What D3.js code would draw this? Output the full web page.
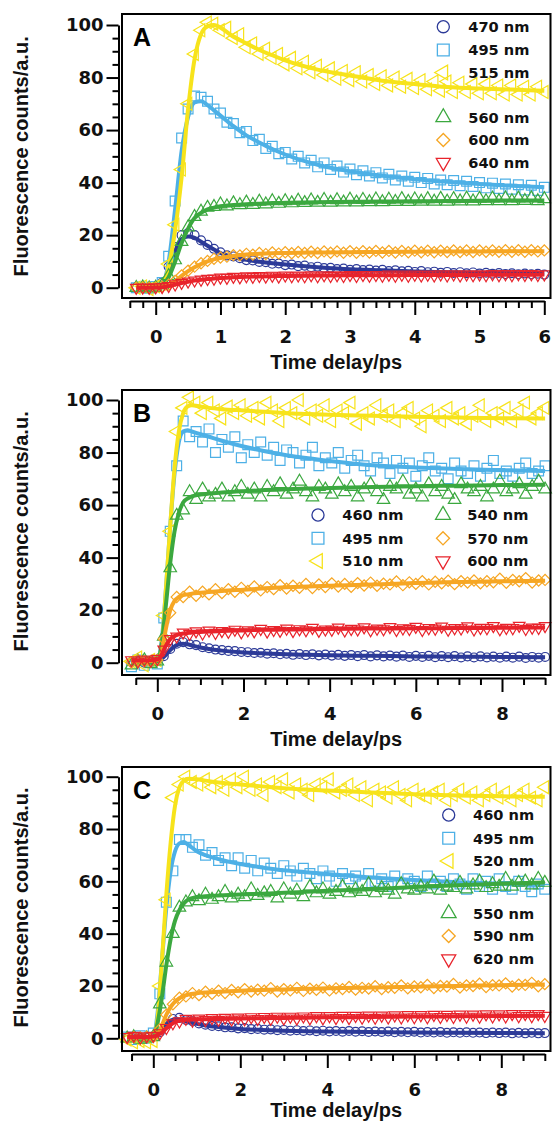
<!DOCTYPE html>
<html><head><meta charset="utf-8">
<script src="https://cdn.jsdelivr.net/npm/d3@7"></script>
<style>html,body{margin:0;padding:0;background:#fff}</style>
</head><body>
<svg id="chart" width="553" height="1122"></svg>
<script>
// ---------------- DATA ----------------
// Panel A: measured time points (ps)
const tA = [-0.3,-0.2,-0.1,0,0.1,0.2,0.3,0.4,0.5,0.6,0.7,0.8,0.9,1,1.1,1.2,1.3,1.4,1.5,1.6,1.7,1.8,1.9,2,2.1,2.2,2.3,2.4,2.5,2.6,2.7,2.8,2.9,3,3.1,3.2,3.3,3.4,3.5,3.6,3.7,3.8,3.9,4,4.1,4.2,4.3,4.4,4.5,4.6,4.7,4.8,4.9,5,5.1,5.2,5.3,5.4,5.5,5.6,5.7,5.8,5.9,6];
const mA470 = [0.2,-0.1,0.1,0.3, 2,8,15.5,20,20.8,20,18,16.3,14.8,13.5, 12.3,11.9,11.2,10.5,10.4,9.8,9.7,9.1,9.2,8.6, 8.8,8.2,8.4,7.8,8.0,7.5,7.6,7.1,7.3,6.8, 7.1,6.7,6.9,6.5,6.8,6.3,6.6,6.2,6.4,6.0, 6.3,5.9,6.1,5.7,6.0,5.6,5.9,5.5,5.8,5.4, 5.7,5.3,5.6,5.2,5.5,5.1,5.4,5.1,5.3,5.0];
const mA495 = [0,0.3,-0.2,0.5, 2,12,33,57,68,73,72.5,71,68,66.5, 63,62.5,59,59.5,56,56.5,53,53.8,51,51.5, 49,50,47.5,48.5,46,47.5,45,46.3,44,45.2, 43,44.5,42.5,43.8,41.8,43.2,41,42.5,40.5,42, 40,41.6,39.5,41,39.2,40.8,38.8,40.5,38.5,40, 38,39.8,37.8,39.5,37.5,39.2,37.2,39,37,38.2];
const mA515 = [0,0.5,-0.5,0.5, 1.5,9,24,45,70,89,98,101,100.5,98, 99,95,96.5,91.5,93,89,91,87.5,89,85, 87.5,83.5,86,82,84.5,81,83.5,79.5,82.5,79, 82,78.5,81,77.5,80.5,77,80,76.5,79.5,76, 79,75.5,78.5,75,78.5,74.5,78,74.5,77.5,74, 77.5,74,77,73.5,77,73.5,76.5,73.5,76.5,74.5];
const mA560 = [0,0.2,-0.2,0.1, 1,4.5,10.5,17.5,23,27,29,30.5,30.8,31.8, 31,32.2,31.5,32.5,31.6,32.8,31.8,33,32,33, 32.2,33.2,32.3,33.3,32.4,33.5,32.4,33.4,32.5,33.6, 32.5,33.5,32.6,33.7,32.6,33.6,32.7,33.8,32.7,33.7, 32.8,33.8,32.8,33.9,32.8,33.8,32.9,34,32.9,33.9, 33,34,33,34.1,33,34,33.1,34.1,33,33.8];
const mA600 = [0,0.1,0,0.1, 0.4,1.2,2.6,4.7,6.5,8,9.3,10.2,11,11.5, 11.8,12.4,12.3,12.9,12.6,13.2,12.8,13.4,13,13.5, 13.1,13.6,13.2,13.7,13.2,13.8,13.3,13.8,13.3,13.9, 13.3,13.9,13.4,14,13.4,14,13.4,14,13.5,14.1, 13.5,14.1,13.5,14.1,13.6,14.2,13.6,14.2,13.6,14.2, 13.7,14.2,13.7,14.3,13.7,14.3,13.7,14.3,13.8,14.2];
const mA640 = [0,0.1,0,0.2, 0.3,0.7,1.3,1.9,2.4,2.8,3.1,3.4,3.5,3.9, 3.8,4.2,4,4.4,4.2,4.5,4.3,4.6,4.3,4.7, 4.4,4.7,4.4,4.8,4.4,4.8,4.5,4.8,4.5,4.9, 4.5,4.9,4.6,4.9,4.6,5,4.6,5,4.6,5, 4.7,5,4.7,5.1,4.7,5.1,4.7,5.1,4.8,5.1, 4.8,5.2,4.8,5.2,4.8,5.2,4.9,5.2,4.9,5.1];
// Panel A: fitted curves
const fitTA = [-0.3,0,0.1,0.2,0.3,0.4,0.5,0.6,0.7,0.8,0.9,1.0,1.2,1.4,1.6,1.8,2.0,2.5,3.0,3.5,4.0,4.5,5.0,5.5,6.0];
const fA470 = [0,0.3,1.5,7,14,18.5,19.5,19,17.5,16,14.5,13.2,11.6,10.6,9.9,9.3,8.8,7.8,7.0,6.6,6.2,5.9,5.7,5.5,5.3];
const fA495 = [0,0.5,1,10,30,52,65,70.5,71,69.5,67.5,65.5,61.5,58,55.3,52.8,50.7,46.8,44.3,42.6,41.3,40.3,39.5,38.8,38.2];
const fA515 = [0,0.5,1,8,22,42,68,87,96.5,99.5,100,99,95.5,93,90.5,88.5,86.5,83,80.8,78.8,77.5,76.4,75.8,75.4,75];
const fA560 = [0,0.1,1,4,10,17,22.5,26.5,28.5,29.8,30.5,31,31.5,31.8,32,32.2,32.3,32.5,32.7,32.8,32.9,33,33.1,33.2,33.2];
const fA600 = [0,0.1,0.3,1,2.5,4.5,6.3,7.8,9,10,10.8,11.3,12.1,12.6,12.9,13.1,13.2,13.4,13.5,13.6,13.7,13.8,13.8,13.9,13.9];
const fA640 = [0,0.1,0.2,0.6,1.2,1.8,2.3,2.7,3.0,3.3,3.5,3.7,4.0,4.2,4.3,4.4,4.5,4.6,4.7,4.7,4.8,4.8,4.9,4.9,5.0];

// Panels B and C: measured time points (ps)
const tBC = [-0.6,-0.45,-0.3,-0.15,0, 0.15,0.3,0.45,0.6,0.75,0.9,1.05,1.2,1.35,1.5, 1.65,1.8,1.95,2.1,2.25,2.4,2.55,2.7,2.85,3, 3.15,3.3,3.45,3.6,3.75,3.9,4.05,4.2,4.35,4.5, 4.65,4.8,4.95,5.1,5.25,5.4,5.55,5.7,5.85,6, 6.15,6.3,6.45,6.6,6.75,6.9,7.05,7.2,7.35,7.5, 7.65,7.8,7.95,8.1,8.25,8.4,8.55,8.7,8.85,9];
const fitTBC = [-0.6,-0.3,0,0.1,0.2,0.3,0.4,0.5,0.6,0.7,0.8,1.0,1.2,1.5,2,2.5,3,3.5,4,5,6,7,8,9];

const mB460 = [0.3,0.5,0,0.4,0.6, 2.5,5.2,7.2,7.8,7,6.7,5.9,5.5,5,4.8, 4.5,4.4,4.1,4.0,3.7,3.8,3.4,3.6,3.2,3.4, 3.0,3.3,2.9,3.2,2.8,3.1,2.7,3.0,2.6,2.9, 2.5,2.9,2.4,2.8,2.4,2.7,2.3,2.7,2.2,2.6, 2.2,2.6,2.1,2.5,2.1,2.5,2.0,2.4,2.0,2.4, 2.0,2.3,1.9,2.3,1.9,2.3,1.8,2.2,1.9,2.2];
const mB495 = [-1.5,1,-1,0.5,-0.5, 17,50,75,92,86,88,84,89,80,85, 82,86,78,83,80,84,79,82,77,81, 80,76,79,82,75,78,76,80,74,77, 79,75,73,78,76,72,77,74,76,71, 75,78,73,74,70,76,73,72,75,71, 74,77,72,73,71,74,76,72,73,75];
const mB510 = [0.5,2,-1,1,1, 18,50,88,97,101,99,95,99,96,93, 97.5,95,98,94,97,93,99,96,92,97, 95,100,93,96,94,98,92,96,95,99, 91,95,93,98,94,96,92,95,97,93, 90,96,94,92,97,93,95,91,94,98, 92,95,93,97,92,96,99,93,95,97];
const mB540 = [-1,0.5,1,-0.5,0.5, 10,36,56,58,65,62,66,63,64,66, 63,65,67,64,66,63,67,65,68,64, 66,69,65,63,67,66,64,68,65,67, 63,66,68,65,62,67,66,69,64,66, 63,68,65,67,64,62,68,66,65,67, 63,66,69,65,66,68,64,67,69,66];
const mB570 = [0,1,0.5,0.5,1, 9,19,25,25,27,25.5,27,26,28,26.5, 28,27,28.5,27.3,29,27.5,28.8,28,29.5,28.2, 29.3,28.5,30,28.4,29.8,28.8,30.2,29,30,28.9, 30.3,29.4,30.5,29.3,30.1,29.8,30.9,29.5,30.6,30, 31,29.8,30.8,30.2,31.2,29.9,31,30.5,31.3,30.2, 31,30.6,32,30.4,31.5,31,32.2,30.5,31.3,31.5];
const mB600 = [1,0.5,1.2,0.8,1.5, 5,9,10,11.5,11,12,11.2,12.3,11.4,12.1, 11.8,12.6,11.6,12.4,12,12.9,11.9,12.5,12.2,13, 12.1,12.8,12.4,13.3,12.2,12.7,12.6,13.4,12.3,12.9, 12.7,13.5,12.4,13,12.8,13.6,12.5,13.1,12.9,13.7, 12.5,13.2,13,13.8,12.6,13.2,13.1,13.9,12.7,13.3, 13.2,14,12.8,13.3,13.2,14.1,12.9,13.4,13.3,14];
const fB460 = [0.3,0.3,0.5,1.5,3,4.8,6.2,7,7.2,7,6.6,5.8,5.2,4.6,3.9,3.5,3.2,3.0,2.8,2.6,2.4,2.3,2.2,2.1];
const fB495 = [0,0,0.5,8,28,52,72,84,88,88.5,88,87,86,84.5,82.3,80.5,79,77.8,76.8,75.2,74.3,73.7,73.3,73];
const fB510 = [0,0,0.5,6,28,52,74,88,95,97.5,98,97.5,97,96.5,96,95.5,95,94.7,94.4,94,93.6,93.3,93.1,93];
const fB540 = [0,0,0.5,7,22,38,50,57,61,62.5,63.3,64,64.4,64.8,65.3,65.7,66,66.3,66.5,66.9,67.2,67.4,67.6,67.7];
const fB570 = [0.5,0.5,1,4,13,20,23.5,25,25.7,26,26.3,26.6,26.9,27.3,27.8,28.3,28.7,29,29.3,29.8,30.3,30.7,31,31.2];
const fB600 = [0.8,0.8,1.2,3,6.5,9,10.2,10.8,11.1,11.3,11.5,11.7,11.9,12.1,12.3,12.5,12.6,12.7,12.8,13,13.1,13.2,13.3,13.4];

const mC460 = [0.3,0.5,0.2,0.6,0.7, 2.3,5.3,7.4,7.8,7,6.5,5.7,5.2,4.7,4.6, 4.2,4.2,3.8,3.9,3.5,3.6,3.3,3.4,3.1,3.2, 2.9,3.1,2.8,3.0,2.7,2.9,2.6,2.8,2.5,2.8, 2.5,2.7,2.4,2.6,2.4,2.6,2.3,2.5,2.3,2.5, 2.2,2.4,2.2,2.4,2.1,2.3,2.1,2.3,2.1,2.2, 2.0,2.2,2.0,2.2,1.9,2.1,1.9,2.1,1.9,2.0];
const mC495 = [0.5,-0.5,1,0,2, 17,52,64,76,76,73,74,70,71,68, 69,66,69,65,68,64,67,65,63,66, 64,62,65,63,61,64,62,60,63,61, 62,59,63,60,61,58,62,59,61,60, 58,62,59,60,58,61,59,57,61,58, 60,57,61,58,57,60,58,56,59,57];
const mC520 = [-0.5,-1.5,-1,-1.5,-1, 20,53,92,97,100,98,97,99,96,98, 95,99,96,100,95,97,93,98,96,99, 94,97,95,93,97,96,99,94,95,97, 93,96,91,95,94,92,96,93,91,95, 93,92,94,95,91,93,95,92,94,91, 93,95,92,94,91,93,95,92,91,96];
const mC550 = [0,0.5,-0.5,0,0.5, 13,29,40,50,52,54,52.5,55,53,54, 56,53.5,55,54,57,54.5,55.5,56,53.5,57, 55,56.5,54,58,55.5,57,55,56,58,55.5, 57,56,59,55.5,57.5,56.5,55,59,57,56.5, 58,57,60,56.5,58,57.5,59.5,57,58.5,60, 57.5,59,58,61,58,59.5,60,58.5,61,59.5];
const mC590 = [0,0.5,0.3,0.6,0.5, 3.5,9,13,15.5,16,17.3,16.5,17.8,17,18.2, 17.3,18.5,17.6,18.8,17.9,18.6,18.2,19.2,17.9,18.8, 18.3,19.3,18.1,19,18.5,19.4,18.3,19.1,18.8,19.6, 18.6,19.3,19,19.9,18.8,19.5,19.3,20.2,19.1,19.8, 19.5,20.4,19.2,20,19.8,20.8,19.4,20.2,20,20.9, 19.6,20.3,20.2,21,19.8,20.5,20.4,21.2,19.9,20.7];
const mC620 = [0.5,1,0.3,0.8,1, 2,4,5.8,6.5,7.5,6.8,7.6,7,7.8,7.1, 7.9,7.2,8,7.3,8.1,7.4,8.2,7.5,8.3,7.6, 8.3,7.6,8.4,7.7,8.5,7.7,8.5,7.8,8.6,7.8, 8.6,7.9,8.7,7.9,8.7,8,8.8,8,8.9,8.1, 8.9,8.1,9,8.2,9,8.2,9.1,8.3,9.1,8.3, 9.2,8.4,9.2,8.4,9.3,8.5,9.3,8.5,9.3,8.6];
const fC460 = [0.3,0.3,0.5,1.5,3.5,5.5,6.8,7.3,7.2,6.8,6.3,5.5,4.9,4.3,3.6,3.2,2.9,2.7,2.6,2.4,2.2,2.1,2,1.9];
const fC495 = [0,0,1,10,30,50,64,71.5,74.5,75,74,71.5,70,68.5,66.6,65.3,64.2,63.5,62.8,61.5,60.5,59.7,59.1,58.6];
const fC520 = [-0.5,-0.5,0,8,30,55,75,89,96,98.5,99.2,99,98.5,97.8,97,96.3,95.6,95.1,94.7,94,93.3,92.8,92.5,92.3];
const fC550 = [0,0,0.5,6,16,28,38,45,49,51.5,53,54,54.3,54.6,55,55.3,55.6,56,56.4,57,57.8,58.5,59.1,59.6];
const fC590 = [0.3,0.3,0.5,1.5,5,9,12,14,15.3,16.2,16.7,17.2,17.5,17.8,18.2,18.5,18.7,18.9,19.1,19.4,19.7,20,20.3,20.6];
const fC620 = [0.5,0.5,0.7,1.2,2.2,3.8,5.2,6.2,6.7,7,7.1,7.2,7.3,7.4,7.6,7.7,7.8,7.9,8,8.1,8.3,8.4,8.5,8.6];

// Labels and ticks
const labelsA = ["470 nm","495 nm","515 nm","560 nm","600 nm","640 nm"];
const labelsB = ["460 nm","495 nm","510 nm","540 nm","570 nm","600 nm"];
const labelsC = ["460 nm","495 nm","520 nm","550 nm","590 nm","620 nm"];
const yMajor = [0,20,40,60,80,100];
const xMajorA = [0,1,2,3,4,5,6];
const xMajorBC = [0,2,4,6,8];
const xTitle = "Time delay/ps";
const yTitle = "Fluorescence counts/a.u.";

// ---------------- STYLE / LAYOUT ----------------
const colors = ["#2c3a98","#4db0e6","#f7e31b","#3ba83f","#f6a623","#e8232b"];
const shapes = ["circle","square","left","up","diamond","down"];

const panels = [
  {letter:"A", t:tA, fitT:fitTA, marks:[mA470,mA495,mA515,mA560,mA600,mA640], fits:[fA470,fA495,fA515,fA560,fA600,fA640], labels:labelsA,
   frame:{l:122,r:550.5,t:14,b:298}, titleDy:71, xDom:[-0.4,6], xCal:[0,155.7,6,544.3], yCal:[287.7,25],
   xMajor:xMajorA, xMinorStep:0.2,
   legend:[[443.3,26.7,468.3],[443.3,50,468.3],[443.3,72.5,468.3],[443.3,117.3,468.3],[443.3,140,468.3],[443.3,162.5,468.3]]},
  {letter:"B", t:tBC, fitT:fitTBC, marks:[mB460,mB495,mB510,mB540,mB570,mB600], fits:[fB460,fB495,fB510,fB540,fB570,fB600], labels:labelsB,
   frame:{l:122,r:550.5,t:390,b:675}, titleDy:71, xDom:[-0.5,9], xCal:[0,157.3,8,502], yCal:[662.7,400],
   xMajor:xMajorBC, xMinorStep:0.5,
   legend:[[318,515,342.3],[318,538.3,342.3],[318,561,342.3],[443,515,467.3],[443,538.3,467.3],[443,561,467.3]]},
  {letter:"C", t:tBC, fitT:fitTBC, marks:[mC460,mC495,mC520,mC550,mC590,mC620], fits:[fC460,fC495,fC520,fC550,fC590,fC620], labels:labelsC,
   frame:{l:122,r:550.5,t:767,b:1051}, titleDy:66, xDom:[-0.5,9], xCal:[0,153.3,8,501.3], yCal:[1038.3,776.7],
   xMajor:xMajorBC, xMinorStep:0.5,
   legend:[[448.7,815,473],[448.7,838.3,473],[448.7,861,473],[448.7,913.3,473],[448.7,936,473],[448.7,959,473]]}
];

const svg = d3.select("#chart");
svg.append("rect").attr("width",553).attr("height",1122).attr("fill","#fff");

const symType = {circle:d3.symbolCircle, square:d3.symbolSquare, left:d3.symbolTriangle, up:d3.symbolTriangle, down:d3.symbolTriangle, diamond:d3.symbolSquare};
const symRot = {circle:0, square:0, left:-90, up:0, down:180, diamond:45};
const dataSize = {circle:62, square:96, left:72, up:68, down:58, diamond:62};
const legSize = {circle:115, square:140, left:95, up:95, down:85, diamond:85};
const symPath = (shape,size)=>d3.symbol().type(symType[shape]).size(size)();

const tickFont = "'DejaVu Sans', sans-serif";
const titleFont = "'Liberation Sans', Arial, sans-serif";

panels.forEach(P=>{
  const F = P.frame;
  const [t0,p0,t1,p1] = P.xCal;
  const k = (p1-p0)/(t1-t0);
  const x = d3.scaleLinear().domain(P.xDom).range(P.xDom.map(t=>p0+(t-t0)*k));
  const y = d3.scaleLinear().domain([0,100]).range(P.yCal);
  const g = svg.append("g");

  // data
  const gd = g.append("g");
  P.marks.forEach((vals,si)=>{
    const shape = shapes[si], col = colors[si];
    const pts = P.t.map((t,i)=>[t,vals[i]]).filter(d=>d[1]!==undefined);
    gd.append("g").selectAll("path").data(pts).join("path")
      .attr("d", symPath(shape,dataSize[shape]))
      .attr("transform", d=>`translate(${x(d[0])},${y(d[1])}) rotate(${symRot[shape]})`)
      .attr("fill","none").attr("stroke",col).attr("stroke-width",1.2);
    const fitPts = P.fitT.map((t,i)=>[t,P.fits[si][i]]);
    gd.append("path").datum(fitPts)
      .attr("d", d3.line().x(d=>x(d[0])).y(d=>y(d[1])).curve(d3.curveMonotoneX))
      .attr("fill","none").attr("stroke",col).attr("stroke-width",4).attr("stroke-linejoin","round");
  });

  // frame
  g.append("rect").attr("x",F.l).attr("y",F.t).attr("width",F.r-F.l).attr("height",F.b-F.t)
    .attr("fill","none").attr("stroke","#000").attr("stroke-width",2);

  // y axis (major + minor)
  const yMinor = d3.range(0,101,5).filter(v=>v%20!==0);
  const ya = g.append("g").attr("transform",`translate(${F.l-3.5},0)`)
    .call(d3.axisLeft(y).tickValues(yMajor).tickSize(12).tickSizeOuter(0).tickPadding(3).tickFormat(d3.format("d")));
  g.append("g").attr("transform",`translate(${F.l-3.5},0)`)
    .call(d3.axisLeft(y).tickValues(yMinor).tickSize(6).tickSizeOuter(0).tickFormat(""))
    .select(".domain").remove();

  // x axis (major + minor)
  const xMinor = d3.range(Math.round(P.xDom[0]/P.xMinorStep), Math.round(P.xDom[1]/P.xMinorStep)+1)
    .map(i=>+(i*P.xMinorStep).toFixed(3)).filter(v=>!P.xMajor.includes(v));
  const xa = g.append("g").attr("transform",`translate(0,${F.b+3})`)
    .call(d3.axisBottom(x).tickValues(P.xMajor).tickSize(14).tickSizeOuter(0).tickPadding(15).tickFormat(d3.format("d")));
  g.append("g").attr("transform",`translate(0,${F.b+3})`)
    .call(d3.axisBottom(x).tickValues(xMinor).tickSize(7).tickSizeOuter(0).tickFormat(""))
    .select(".domain").remove();

  g.selectAll(".domain, .tick line").attr("stroke","#000").attr("stroke-width",2);
  [ya,xa].forEach(a=>a.selectAll("text").attr("font-family",tickFont).attr("font-weight","bold")
    .attr("font-size",18).attr("fill","#111"));

  // titles
  g.append("text").attr("x",(F.l+F.r)/2).attr("y",F.b+P.titleDy).attr("text-anchor","middle")
    .attr("font-family",titleFont).attr("font-weight","bold").attr("font-size",20).attr("fill","#111").text(xTitle);
  const yc = (P.yCal[0]+P.yCal[1])/2;
  g.append("text").attr("transform",`translate(28,${yc}) rotate(-90)`).attr("text-anchor","middle")
    .attr("font-family",titleFont).attr("font-weight","bold").attr("font-size",20).attr("fill","#111").text(yTitle);

  // panel letter
  g.append("text").attr("x",F.l+11).attr("y",F.t+32).attr("font-family",titleFont).attr("font-weight","bold")
    .attr("font-size",25).attr("fill","#000").text(P.letter);

  // legend
  P.legend.forEach((pos,si)=>{
    const shape = shapes[si];
    g.append("path").attr("d",symPath(shape,legSize[shape]))
      .attr("transform",`translate(${pos[0]},${pos[1]}) rotate(${symRot[shape]})`)
      .attr("fill","none").attr("stroke",colors[si]).attr("stroke-width",1.3);
    g.append("text").attr("x",pos[2]).attr("y",pos[1]+5.3)
      .attr("font-family",tickFont).attr("font-weight","bold").attr("font-size",14.6).attr("fill","#111")
      .text(P.labels[si]);
  });
});
</script>
</body></html>
